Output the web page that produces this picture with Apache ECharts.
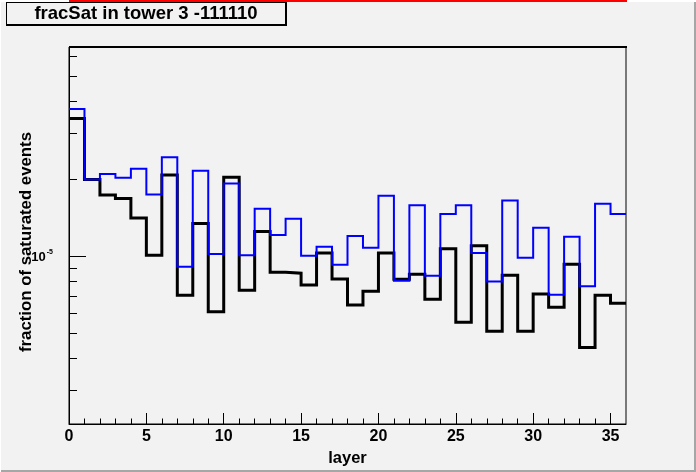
<!DOCTYPE html>
<html>
<head>
<meta charset="utf-8">
<script src="https://cdn.jsdelivr.net/npm/echarts@6/dist/echarts.min.js"></script>
<style>
  html, body { margin: 0; padding: 0; background: #ffffff; }
  #main { width: 696px; height: 472px; }
</style>
</head>
<body>
<div id="main"></div>
<script>
// bin start of each layer (bin width 1)
const layers = [0, 1, 2, 3, 4, 5, 6, 7, 8, 9, 10, 11, 12, 13, 14, 15, 16, 17,
  18, 19, 20, 21, 22, 23, 24, 25, 26, 27, 28, 29, 30, 31, 32, 33, 34, 35];

// fraction of saturated events, black histogram
const fracSatBlack = [3.44e-5, 1.99e-5, 1.73e-5, 1.68e-5, 1.41e-5, 1.01e-5,
  2.07e-5, 7.05e-6, 1.34e-5, 6.09e-6, 2.03e-5, 7.38e-6,
  1.25e-5, 8.66e-6, 8.59e-6, 7.73e-6, 1.03e-5, 8.16e-6,
  6.46e-6, 7.31e-6, 1.03e-5, 8.14e-6, 8.51e-6, 6.80e-6,
  1.07e-5, 5.54e-6, 1.10e-5, 5.11e-6, 8.44e-6, 5.11e-6,
  7.13e-6, 6.33e-6, 9.31e-6, 4.42e-6, 7.05e-6, 6.56e-6];

// fraction of saturated events, blue histogram
const fracSatBlue = [3.74e-5, 1.99e-5, 2.09e-5, 2.02e-5, 2.19e-5, 1.74e-5,
  2.43e-5, 9.11e-6, 2.15e-5, 1.02e-5, 1.92e-5, 1.01e-5,
  1.53e-5, 1.21e-5, 1.40e-5, 1.005e-5, 1.09e-5, 9.28e-6,
  1.20e-5, 1.08e-5, 1.72e-5, 8.04e-6, 1.58e-5, 8.40e-6,
  1.46e-5, 1.58e-5, 1.03e-5, 7.97e-6, 1.65e-5, 9.88e-6,
  1.29e-5, 7.09e-6, 1.19e-5, 7.64e-6, 1.60e-5, 1.46e-5];

// axis ticks
const xMajorTicks = [0, 5, 10, 15, 20, 25, 30, 35];
const xMinorTicks = [1, 2, 3, 4, 6, 7, 8, 9, 11, 12, 13, 14, 16, 17, 18, 19,
  21, 22, 23, 24, 26, 27, 28, 29, 31, 32, 33, 34];
const yMajorTicks = [1e-5];
const yMinorTicks = [3e-6, 4e-6, 5e-6, 6e-6, 7e-6, 8e-6, 9e-6,
  2e-5, 3e-5, 4e-5, 5e-5, 6e-5];

const xMax = 36;
const yMin = 2.226e-6;
const yMax = 6.52e-5;

const FONT = 'Liberation Sans, Arial, Helvetica, sans-serif';
const BG = '#f2f2f2';

// step histogram: one point per bin start + closing point at the last edge
const toSteps = (vals) => {
  const pts = layers.map((l, i) => [l, vals[i]]);
  pts.push([xMax, vals[vals.length - 1]]);
  return pts;
};

const chart = echarts.init(document.getElementById('main'), null, { renderer: 'canvas' });

chart.setOption({
  animation: false,
  backgroundColor: '#ffffff',
  graphic: [
    // pad background and its border
    { type: 'rect', z: -10, shape: { x: 1, y: 2, width: 693, height: 468 }, style: { fill: BG } },
    { type: 'rect', z: -10, shape: { x: 694, y: 2, width: 2, height: 470 }, style: { fill: '#a6a6a6' } },
    { type: 'rect', z: -10, shape: { x: 1, y: 470, width: 695, height: 2 }, style: { fill: '#a6a6a6' } },
    { type: 'rect', z: -10, shape: { x: 69, y: 0, width: 558, height: 2 }, style: { fill: '#ff0000' } },
    // slightly heavier top edge of the frame
    { type: 'rect', z: 5, shape: { x: 69, y: 46, width: 558, height: 2 }, style: { fill: '#000000' } },
    // title box with shadow
    { type: 'rect', z: 10, shape: { x: 6, y: 2, width: 281, height: 24 }, style: { fill: '#000000' } },
    { type: 'rect', z: 10, shape: { x: 7, y: 3, width: 278, height: 21 }, style: { fill: BG } },
    {
      type: 'text', z: 11, x: 146, y: 14,
      style: {
        text: 'fracSat in tower 3 -111110',
        font: 'bold 18.5px ' + FONT,
        fill: '#000000',
        textAlign: 'center',
        textVerticalAlign: 'middle'
      }
    },
    // y axis title
    {
      type: 'text', z: 11, x: 26, y: 242, rotation: Math.PI / 2,
      style: {
        text: 'fraction of saturated events',
        font: 'bold 16.8px ' + FONT,
        fill: '#000000',
        textAlign: 'center',
        textVerticalAlign: 'middle'
      }
    }
  ],
  grid: {
    left: 69, right: 70, top: 47, bottom: 48,
    show: true,
    backgroundColor: BG,
    borderColor: '#000000',
    borderWidth: 1
  },
  xAxis: [
    {
      type: 'value', position: 'bottom', min: 0, max: xMax,
      name: 'layer', nameLocation: 'middle', nameGap: 22,
      nameTextStyle: { fontFamily: FONT, fontWeight: 'bold', fontSize: 16.5, color: '#000000' },
      axisLine: { show: true, lineStyle: { color: '#000000', width: 1 } },
      axisTick: { show: true, inside: true, length: 11, customValues: xMajorTicks, lineStyle: { color: '#000000' } },
      axisLabel: {
        customValues: xMajorTicks, margin: 5,
        fontFamily: FONT, fontWeight: 'bold', fontSize: 16, color: '#000000'
      },
      splitLine: { show: false }
    },
    {
      type: 'value', position: 'bottom', min: 0, max: xMax,
      axisLine: { show: false },
      axisTick: { show: true, inside: true, length: 5.5, customValues: xMinorTicks, lineStyle: { color: '#000000' } },
      axisLabel: { show: false },
      splitLine: { show: false }
    }
  ],
  yAxis: [
    {
      type: 'log', logBase: 10, position: 'left', min: yMin, max: yMax,
      axisLine: { show: true, lineStyle: { color: '#000000', width: 1 } },
      axisTick: { show: true, inside: true, length: 17, customValues: yMajorTicks, lineStyle: { color: '#000000' } },
      axisLabel: {
        customValues: yMajorTicks, margin: 16,
        formatter: () => '{a|10}{b|-5}',
        rich: {
          a: { fontFamily: FONT, fontWeight: 'bold', fontSize: 13, color: '#000000', padding: [3, 0, 0, 0] },
          b: { fontFamily: FONT, fontWeight: 'bold', fontSize: 7, color: '#000000', verticalAlign: 'top', padding: [0, 0, 4, 1] }
        }
      },
      splitLine: { show: false }
    },
    {
      type: 'log', logBase: 10, position: 'left', min: yMin, max: yMax,
      axisLine: { show: false },
      axisTick: { show: true, inside: true, length: 8, customValues: yMinorTicks, lineStyle: { color: '#000000' } },
      axisLabel: { show: false },
      splitLine: { show: false }
    }
  ],
  series: [
    {
      name: 'black',
      type: 'line', step: 'end', symbol: 'none',
      xAxisIndex: 0, yAxisIndex: 0,
      lineStyle: { color: '#000000', width: 3, join: 'miter' },
      data: toSteps(fracSatBlack)
    },
    {
      name: 'blue',
      type: 'line', step: 'end', symbol: 'none',
      xAxisIndex: 0, yAxisIndex: 0,
      lineStyle: { color: '#0000ff', width: 2, join: 'miter' },
      data: toSteps(fracSatBlue)
    }
  ]
});
</script>
</body>
</html>
